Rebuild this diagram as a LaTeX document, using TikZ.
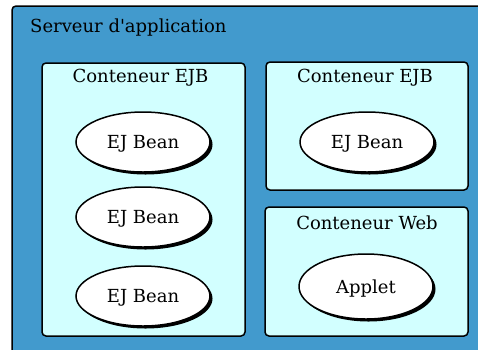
\documentclass[tikz,border=0pt]{standalone}
\usepackage{fontspec}
\setmainfont{DejaVu Serif}
\usetikzlibrary{shapes.geometric,shadows}
\definecolor{servblue}{RGB}{66,154,205}
\definecolor{contcyan}{RGB}{210,255,255}
\tikzset{
  server/.style={draw=black, line width=1.5pt, fill=servblue, rounded corners=4pt},
  container/.style={draw=black, line width=1.5pt, fill=contcyan, rounded corners=4pt},
  bean/.style={ellipse, draw=black, line width=1.5pt, fill=white, minimum width=134pt, minimum height=60pt, inner sep=0pt,
     font=\fontsize{18}{20}\selectfont, text height=13pt, text depth=0pt,
     drop shadow={shadow xshift=2.5pt, shadow yshift=-2.5pt, fill=black, opacity=1}},
  title/.style={font=\fontsize{18}{20}\selectfont, inner sep=0pt, anchor=base}
}
\begin{document}
\begin{tikzpicture}[x=1pt,y=-1pt]
\useasboundingbox (0,0) rectangle (478,349);
\fill[white] (0,0) rectangle (478,349);
\clip (0,0) rectangle (478,349);
\draw[server] (12,6) rectangle (495,365);
\node[title, anchor=base west] (srv) at (30,32) {Serveur d\textquotesingle application};
% left container
\draw[container] (42,63) rectangle (245,336);
\node[title] (c1) at (140.5,82.5) {Conteneur EJB};
\node[bean] (b1) at (143,142) {EJ Bean};
\node[bean] (b2) at (143,217) {EJ Bean};
\node[bean] (b3) at (143,296) {EJ Bean};
% top right container
\draw[container] (266,62) rectangle (468,190);
\node[title] (c2) at (365,82.5) {Conteneur EJB};
\node[bean] (b4) at (367,142) {EJ Bean};
% bottom right container
\draw[container] (265,207) rectangle (468,336);
\node[title] (c3) at (367,229) {Conteneur Web};
\node[bean, minimum height=65pt] (ap) at (366,286.5) {Applet};
\end{tikzpicture}
\end{document}
